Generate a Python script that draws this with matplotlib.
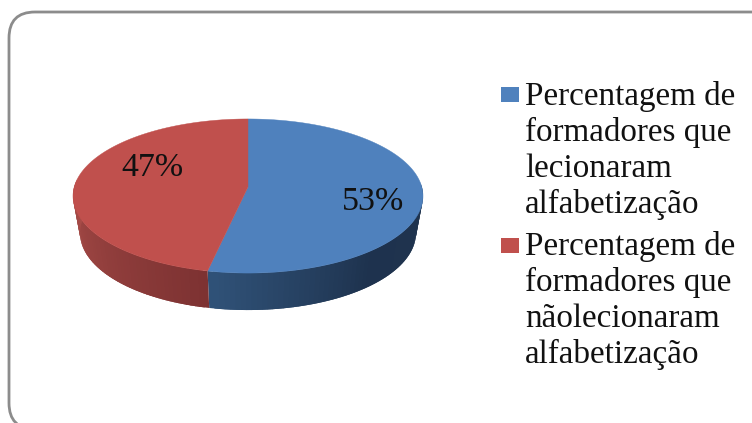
import matplotlib
matplotlib.use("Agg")
import matplotlib.pyplot as plt
from matplotlib.patches import FancyBboxPatch, Rectangle
import numpy as np

# slice values, first slice starts at 12 o'clock and runs clockwise
values = [53.3, 46.7]
colors = ["#4F81BD", "#C0504D"]
wall_colors = [[(48, 82, 120), (30, 50, 78), (32, 52, 78)],
               [(125, 50, 50), (168, 76, 72)]]
legend_lines = [["Percentagem de", "formadores que", "lecionaram", "alfabetização"],
                ["Percentagem de", "formadores que", "nãolecionaram", "alfabetização"]]

plt.rcParams["font.family"] = ["Liberation Serif", "DejaVu Serif"]
fig = plt.figure(figsize=(7.52, 4.23), dpi=100)
ax = fig.add_axes([0, 0, 1, 1])
ax.set_xlim(0, 752)
ax.set_ylim(423, 0)
ax.axis("off")

# chart frame, runs off the right and bottom of the picture
ax.add_patch(FancyBboxPatch((9, 12), 800, 417, boxstyle="round,pad=0,rounding_size=26",
                            fc="white", ec="#8C8C8C", lw=2.0))

cx, cy, a, b, k = 248, 187, 173.8, 76.0, 0.117
depth, shrink = 37, 0.96


def project(t, scale=1.0, dy=0.0):
    # t is clockwise from the top, tilted circle in perspective
    xx, yy = np.sin(t), np.cos(t)
    w = 1 + k * yy
    return cx + scale * a * xx / w, cy - b * yy / w + dy


edges = np.concatenate([[0], np.cumsum(values)]) / sum(values) * 2 * np.pi

# side wall, overlapping strips for the shading
for i, (t0, t1) in enumerate(zip(edges[:-1], edges[1:])):
    tt = np.linspace(t0, t1, 120)
    stops = np.array(wall_colors[i], dtype=float) / 255
    pos = np.linspace(0, 1, len(stops))
    for j in range(len(tt) - 1):
        if np.cos(tt[j]) > 0.05:
            continue
        end = min(tt[j + 1] + 0.03, t1) if i == 1 else tt[j + 1]
        start = tt[j] - 0.03 if i == 0 and j > 0 else tt[j]
        p = np.array([start, end])
        x1, y1 = project(p)
        x2, y2 = project(p, shrink, depth)
        if i == 0:
            # shade follows the screen position on the blue side
            f = 1 - np.clip((tt[j] - np.pi / 2) / (t1 - np.pi / 2), 0, 1)
        else:
            f = np.clip((tt[j] - t0) / (1.5 * np.pi - t0), 0, 1)
        col = [np.interp(f, pos, stops[:, c]) for c in range(3)]
        ax.fill([x1[0], x1[1], x2[1], x2[0]], [y1[0], y1[1], y2[1], y2[0]],
                color=col, lw=0)

# top face
for t0, t1, col in zip(edges[:-1], edges[1:], colors):
    tt = np.linspace(t0, t1, 200)
    x, y = project(tt)
    ax.fill(np.r_[cx, x], np.r_[cy, y], color=col, lw=0.3)

label_pos = [(373.5, 210), (152.5, 176)]
for v, (lx, ly) in zip(values, label_pos):
    ax.text(lx, ly, f"{v:.0f}%", fontsize=24.5, color="#111111", ha="center", va="baseline")

# legend
handle_y = [87, 238]
base_y = [[105, 141, 177, 213], [255, 291, 327, 363]]
for col, hy, lines, ys in zip(colors, handle_y, legend_lines, base_y):
    ax.add_patch(Rectangle((501, hy), 18, 15, fc=col, ec="none"))
    for s, y in zip(lines, ys):
        ax.text(525, y, s, fontsize=23.9, color="#111111", ha="left", va="baseline")

fig.savefig("out.png", dpi=100)
